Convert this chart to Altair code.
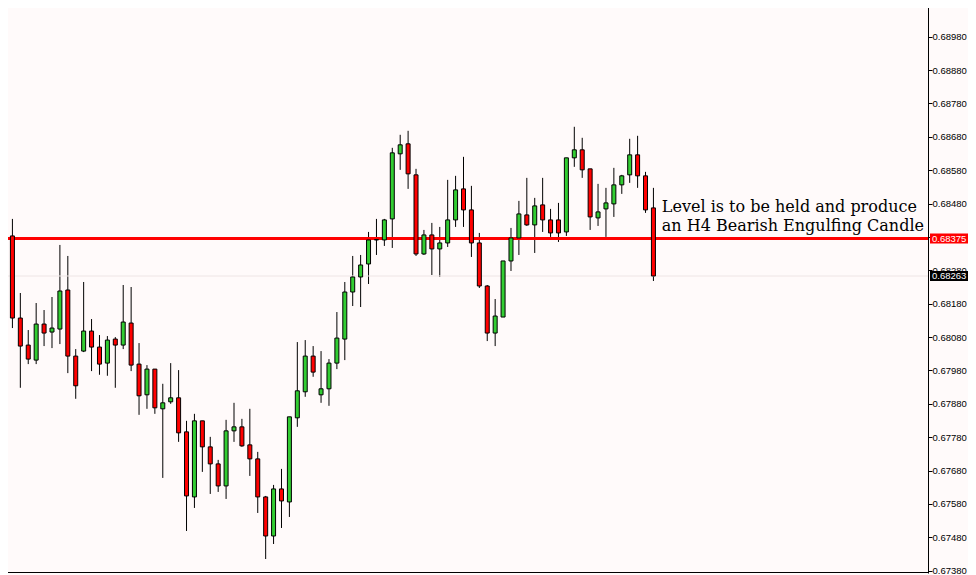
import altair as alt
import pandas as pd

# OHLC prices (oldest -> newest)
opens = [0.68410, 0.68383, 0.68137, 0.68056, 0.68011, 0.68119, 0.68095, 0.68104, 0.68221, 0.68023,
         0.68038, 0.68098, 0.68050, 0.68002, 0.68074, 0.68056, 0.68122, 0.67999, 0.67907, 0.67984,
         0.67865, 0.67886, 0.67898, 0.67796, 0.67601, 0.67829, 0.67751, 0.67700, 0.67634, 0.67799,
         0.67811, 0.67757, 0.67715, 0.67601, 0.67484, 0.67625, 0.67586, 0.67838, 0.67916, 0.68023,
         0.67907, 0.67925, 0.68002, 0.68074, 0.68215, 0.68260, 0.68299, 0.68371, 0.68371, 0.68434,
         0.68629, 0.68659, 0.68566, 0.68329, 0.68386, 0.68344, 0.68362, 0.68431, 0.68524, 0.68461,
         0.68362, 0.68233, 0.68092, 0.68140, 0.68308, 0.68377, 0.68446, 0.68416, 0.68476, 0.68431,
         0.68431, 0.68395, 0.68617, 0.68641, 0.68584, 0.68437, 0.68464, 0.68479, 0.68536, 0.68566,
         0.68626, 0.68563, 0.68467]
highs = [0.68413, 0.68434, 0.68212, 0.68101, 0.68182, 0.68161, 0.68200, 0.68356, 0.68323, 0.68044,
         0.68245, 0.68134, 0.68086, 0.68083, 0.68080, 0.68236, 0.68230, 0.68062, 0.67996, 0.67984,
         0.67940, 0.68002, 0.67981, 0.67829, 0.67850, 0.67829, 0.67781, 0.67712, 0.67832, 0.67883,
         0.67835, 0.67865, 0.67736, 0.67604, 0.67637, 0.67685, 0.67841, 0.68065, 0.68071, 0.68053,
         0.68038, 0.68014, 0.68155, 0.68245, 0.68323, 0.68326, 0.68395, 0.68434, 0.68434, 0.68647,
         0.68686, 0.68698, 0.68584, 0.68401, 0.68422, 0.68410, 0.68551, 0.68563, 0.68620, 0.68533,
         0.68392, 0.68236, 0.68194, 0.68308, 0.68407, 0.68488, 0.68557, 0.68497, 0.68557, 0.68464,
         0.68482, 0.68617, 0.68710, 0.68677, 0.68584, 0.68539, 0.68527, 0.68587, 0.68566, 0.68674,
         0.68683, 0.68575, 0.68527]
lows = [0.68371, 0.68107, 0.67928, 0.67999, 0.67999, 0.68053, 0.68047, 0.68059, 0.67972, 0.67895,
        0.68035, 0.67978, 0.67967, 0.67964, 0.67928, 0.68044, 0.67978, 0.67847, 0.67865, 0.67850,
        0.67658, 0.67880, 0.67766, 0.67499, 0.67568, 0.67676, 0.67610, 0.67616, 0.67595, 0.67766,
        0.67751, 0.67664, 0.67553, 0.67415, 0.67460, 0.67508, 0.67541, 0.67811, 0.67901, 0.67961,
        0.67883, 0.67874, 0.67984, 0.68011, 0.68173, 0.68170, 0.68239, 0.68326, 0.68353, 0.68347,
        0.68581, 0.68524, 0.68323, 0.68326, 0.68266, 0.68260, 0.68350, 0.68410, 0.68410, 0.68320,
        0.68227, 0.68068, 0.68053, 0.68140, 0.68278, 0.68326, 0.68413, 0.68332, 0.68395, 0.68380,
        0.68365, 0.68383, 0.68590, 0.68557, 0.68401, 0.68413, 0.68380, 0.68440, 0.68509, 0.68542,
        0.68527, 0.68452, 0.68248]
closes = [0.68380, 0.68137, 0.68053, 0.68014, 0.68119, 0.68092, 0.68107, 0.68218, 0.68023, 0.67934,
          0.68098, 0.68050, 0.67999, 0.68071, 0.68056, 0.68125, 0.67996, 0.67904, 0.67984, 0.67868,
          0.67883, 0.67898, 0.67793, 0.67604, 0.67829, 0.67751, 0.67700, 0.67634, 0.67799, 0.67811,
          0.67754, 0.67715, 0.67601, 0.67484, 0.67625, 0.67589, 0.67841, 0.67919, 0.68023, 0.67975,
          0.67925, 0.68002, 0.68077, 0.68215, 0.68260, 0.68296, 0.68371, 0.68372, 0.68431, 0.68632,
          0.68656, 0.68569, 0.68329, 0.68386, 0.68344, 0.68362, 0.68431, 0.68521, 0.68461, 0.68362,
          0.68233, 0.68092, 0.68143, 0.68308, 0.68377, 0.68449, 0.68416, 0.68473, 0.68431, 0.68392,
          0.68392, 0.68617, 0.68641, 0.68581, 0.68440, 0.68455, 0.68482, 0.68536, 0.68563, 0.68626,
          0.68563, 0.68461, 0.68263]

tick_values = [0.67380, 0.67480, 0.67580, 0.67680, 0.67780, 0.67880, 0.67980, 0.68080,
               0.68180, 0.68280, 0.68380, 0.68480, 0.68580, 0.68680, 0.68780, 0.68880,
               0.68980, 0.69080]

level_price = [0.68375]
bid_price = [0.68263]
note_lines = ["Level is to be held and produce", "an H4 Bearish Engulfing Candle"]
note_pos = {"i": [83.06], "p": [0.684556]}

df = pd.DataFrame({"i": list(range(len(opens))), "open": opens, "high": highs,
                   "low": lows, "close": closes})
df["dir"] = ["up" if c >= o else "down" for o, c in zip(opens, closes)]

W, H = 920, 565
# the page has an 8px margin: the scale ranges reach 8px past the top-left so that
# the price grid lands where the reference puts it
xs = alt.Scale(domain=[0.0625, 116.0625], range=[-8, W], nice=False, zero=False)
ys = alt.Scale(domain=[0.673731, 0.690899], range=[H, -8], nice=False, zero=False)

LABEL_SIZE = 9.5

yaxis = alt.Axis(orient="right", values=tick_values, format=".5f", grid=False, title=None,
                 tickSize=4, labelPadding=0, domainColor="black", tickColor="black",
                 labelColor="black", labelFont="Liberation Sans", labelFontSize=LABEL_SIZE,
                 labelOverlap=False, labelBound=False, labelFlush=False)

def Y(field):
    return alt.Y(field, scale=ys, axis=yaxis, title=None)

wicks = alt.Chart(df).mark_rule(color="black", strokeWidth=1, clip=True).encode(
    x=alt.X("i:Q", scale=xs, axis=None),
    y=Y("low:Q"),
    y2="high:Q",
)

bodies = alt.Chart(df).mark_bar(size=4, stroke="black", strokeWidth=1, clip=True).encode(
    x=alt.X("i:Q", scale=xs, axis=None),
    y=Y("open:Q"),
    y2="close:Q",
    color=alt.Color("dir:N", scale=alt.Scale(domain=["up", "down"], range=["#32CD32", "#FF0000"]),
                    legend=None),
)

bid_df = pd.DataFrame({"p": bid_price})
level_df = pd.DataFrame({"p": level_price})

bid_line = alt.Chart(bid_df).mark_rule(color="#EEE5E5", strokeWidth=1).encode(y=Y("p:Q"))

level_line = alt.Chart(level_df).mark_rule(color="#FF0000", strokeWidth=3).encode(y=Y("p:Q"))

bottom_edge = alt.Chart(level_df).mark_rule(color="black", strokeWidth=1).encode(
    y=alt.value(H - 0.5))

level_box = alt.Chart(level_df).mark_rule(color="#FF0000", strokeWidth=10, strokeCap="butt").encode(
    x=alt.value(W + 2), x2=alt.value(W + 43), y=Y("p:Q"))
level_txt = alt.Chart(level_df).mark_text(align="left", baseline="middle", color="white",
                                          font="Liberation Sans", fontSize=LABEL_SIZE).encode(
    x=alt.value(W + 4), y=Y("p:Q"), text=alt.Text("p:Q", format=".5f"))

bid_box = alt.Chart(bid_df).mark_rule(color="black", strokeWidth=10, strokeCap="butt").encode(
    x=alt.value(W + 2), x2=alt.value(W + 43), y=Y("p:Q"))
bid_txt = alt.Chart(bid_df).mark_text(align="left", baseline="middle", color="white",
                                      font="Liberation Sans", fontSize=LABEL_SIZE).encode(
    x=alt.value(W + 4), y=Y("p:Q"), text=alt.Text("p:Q", format=".5f"))

note = alt.Chart(pd.DataFrame(note_pos)).mark_text(
    text=note_lines, align="left", baseline="alphabetic", font="DejaVu Serif",
    fontSize=16, lineHeight=19, color="black").encode(
    x=alt.X("i:Q", scale=xs, axis=None), y=Y("p:Q"))

chart = alt.layer(wicks, bid_line, level_line, bottom_edge, bodies, note, level_box, level_txt,
                  bid_box, bid_txt).properties(
    width=W, height=H,
    background="#FFFAFA",
    padding={"left": 0, "top": 0, "right": 40, "bottom": 2},
    autosize=alt.AutoSizeParams(type="none"),
).configure_view(strokeWidth=0, fill="#FFFAFA")

chart.save("out.html", embed_options={"renderer": "svg", "actions": False})
